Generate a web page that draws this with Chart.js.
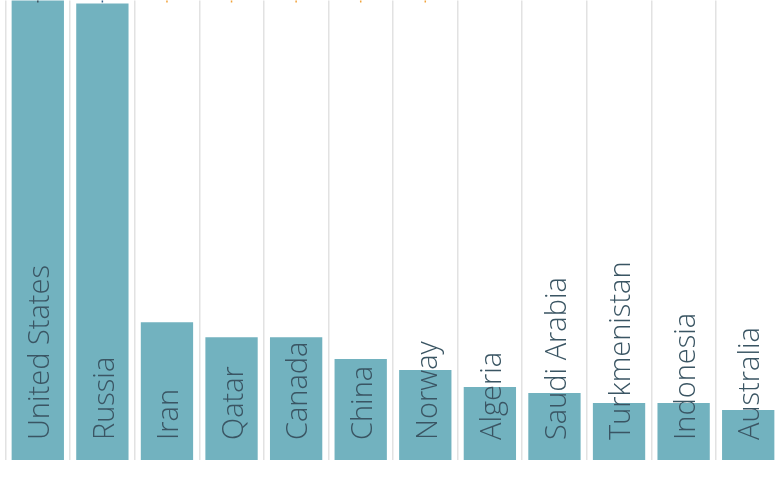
<!DOCTYPE html>
<html>
<head>
<meta charset="utf-8">
<script src="https://cdn.jsdelivr.net/npm/chart.js@4"></script>
<style>
  html, body { margin: 0; padding: 0; background: #fff; overflow: hidden; }
  #wrap { position: absolute; left: 0; top: -5px; width: 786px; height: 484px; }
</style>
</head>
<body>
<div id="wrap"><canvas id="chart"></canvas></div>
<script>
// kategori dan nilai
const countries = ['United States', 'Russia', 'Iran', 'Qatar', 'Canada', 'China', 'Norway',
  'Algeria', 'Saudi Arabia', 'Turkmenistan', 'Indonesia', 'Australia'];
const production = [520, 457, 138, 123, 123, 101, 90, 73, 67, 57, 57, 50];
// penanda kecil di atas (terpotong di tepi atas)
const markerValues = [460, 460, 460, 460, 460, 460, 460, null, null, null, null, null];
const markerColors = ['#3d4f5c', '#2f5f8a', '#f2a33a', '#f2a33a', '#f2a33a', '#f2a33a', '#f2a33a',
  '#f2a33a', '#f2a33a', '#f2a33a', '#f2a33a', '#f2a33a'];

// Label di dalam batang, diputar
const barLabels = {
  id: 'barLabels',
  afterDatasetsDraw(chart) {
    const ctx = chart.ctx;
    const meta = chart.getDatasetMeta(1);
    ctx.save();
    ctx.font = '300 29px "Open Sans"';
    ctx.fillStyle = '#3a5563';
    ctx.textAlign = 'left';
    ctx.textBaseline = 'middle';
    meta.data.forEach((bar, i) => {
      ctx.save();
      ctx.translate(bar.x + 3, bar.base - 20);
      ctx.rotate(-Math.PI / 2);
      ctx.fillText(countries[i], 0, 0);
      ctx.restore();
    });
    ctx.restore();
  }
};

const ctx = document.getElementById('chart').getContext('2d');
new Chart(ctx, {
  data: {
    labels: countries,
    datasets: [
      {
        type: 'line',
        data: markerValues,
        showLine: false,
        pointStyle: 'line',
        rotation: 90,
        pointRadius: 2,
        pointBorderWidth: 1.5,
        pointBorderColor: markerColors,
        pointBackgroundColor: markerColors,
        order: 0
      },
      {
        type: 'bar',
        data: production,
        backgroundColor: '#72b2bf',
        borderWidth: 0,
        barPercentage: 0.9,
        categoryPercentage: 0.9,
        order: 1
      }
    ]
  },
  options: {
    responsive: true,
    maintainAspectRatio: false,
    animation: false,
    layout: { padding: { left: 1, right: 0, top: 0, bottom: 19 } },
    plugins: { legend: { display: false }, tooltip: { enabled: false } },
    scales: {
      x: {
        offset: true,
        grid: { offset: true, color: '#e2e2e2', lineWidth: 1.5, drawTicks: false },
        border: { display: false },
        ticks: { display: false }
      },
      y: {
        display: false,
        min: 0,
        max: 460
      }
    }
  },
  plugins: [barLabels]
});
</script>
</body>
</html>
